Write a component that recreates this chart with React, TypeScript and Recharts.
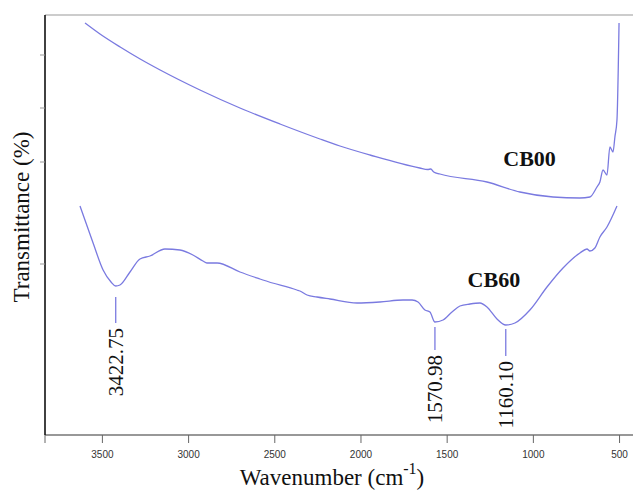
import React from 'react';
import { ComposedChart, Line, XAxis, YAxis, ReferenceLine, ReferenceDot } from 'recharts';

// CB00 spectrum (wavenumber cm-1, relative transmittance)
const cb00Wavenumber = [3601, 3514, 3397, 3281, 3165, 2934, 2702, 2470, 2238, 2122, 1948, 1659, 1613, 1595, 1578, 1542, 1269, 1078, 886, 730, 672, 631, 614, 596, 573, 556, 538, 527, 515, 503];
const cb00Transmittance = [414, 403, 390, 378, 367, 347, 329, 313, 298, 291, 282, 269, 267.5, 268, 265, 263, 255, 245, 240, 239, 240, 250, 255, 267, 262, 290, 285, 300, 317, 414];

// CB60 spectrum
const cb60Wavenumber = [3630, 3554, 3496, 3450, 3423, 3398, 3340, 3282, 3224, 3137, 3050, 2975, 2917, 2894, 2835, 2702, 2586, 2569, 2372, 2354, 2313, 2255, 2180, 2023, 1890, 1756, 1704, 1669, 1629, 1600, 1571, 1524, 1472, 1426, 1368, 1310, 1269, 1211, 1160, 1107, 1020, 921, 828, 730, 689, 672, 643, 614, 573, 515];
const cb60Transmittance = [231, 194, 167, 155, 151, 152, 165, 178, 181, 188, 187, 182, 176, 174, 174, 165, 158, 157, 147, 146, 142, 140, 138, 134, 135, 137, 137, 135, 127, 125, 115, 117, 125, 131, 133, 134, 130, 118, 112, 114, 127, 150, 169, 184, 188, 186, 189, 200, 210, 231];

// Peak annotations
const peakWavenumbers = [3422.75, 1570.98, 1160.1];
const peakLabels = ['3422.75', '1570.98', '1160.10'];
const peakLineTop = [140, 110, 108];
const peakLineBottom = [114, 87, 81];

// Series name labels
const seriesNames = ['CB00', 'CB60'];
const seriesLabelWavenumber = [1022, 1229];
const seriesLabelTransmittance = [271, 150];

// Axis ticks
const xTicks = [3833, 3500, 3000, 2500, 2000, 1500, 1000, 500];
const yTicks = [382, 329, 275, 173];

const cb00Data = cb00Wavenumber.map((wn, i) => ({ wn, t: cb00Transmittance[i] }));
const cb60Data = cb60Wavenumber.map((wn, i) => ({ wn, t: cb60Transmittance[i] }));

const LINE_COLOR = '#7a7ae0';
const SERIF = "'Liberation Serif', 'Times New Roman', serif";
const serifStyle = { fontFamily: SERIF };

export default function App() {
  return (
    <div style={{ position: 'absolute', left: 0, top: 0, width: 633, height: 490, background: '#fff' }}>
      <ComposedChart width={633} height={490} margin={{ top: 15, right: 0, bottom: 0, left: 0 }}>
        <XAxis
          type="number"
          dataKey="wn"
          domain={[422, 3833]}
          reversed
          ticks={xTicks}
          interval={0}
          allowDataOverflow
          height={55}
          axisLine={{ stroke: '#333', strokeWidth: 1.2 }}
          tickLine={{ stroke: '#666' }}
          tickSize={8}
          tickMargin={8}
          tick={{ fill: '#333', fontSize: 10, fontFamily: 'Arial, "Liberation Sans", sans-serif' }}
          tickFormatter={(v: number) => (v % 500 === 0 ? String(v) : '')}
          label={{
            content: () => (
              <text x={332} y={485} textAnchor="middle" fontSize={23} style={serifStyle} fill="#111">
                Wavenumber (cm
                <tspan dy={-11} fontSize={16}>-1</tspan>
                <tspan dy={11}>)</tspan>
              </text>
            ),
          }}
        />
        <YAxis
          type="number"
          dataKey="t"
          domain={[2, 422]}
          allowDataOverflow
          width={45}
          ticks={yTicks}
          interval={0}
          axisLine={{ stroke: '#111', strokeWidth: 1.6 }}
          tickLine={{ stroke: '#999' }}
          tickSize={5}
          tickFormatter={() => ''}
          label={{
            content: () => (
              <text x={29} y={217} transform="rotate(-90 29 217)" textAnchor="middle" fontSize={23} style={serifStyle} fill="#111">
                Transmittance (%)
              </text>
            ),
          }}
        />
        <ReferenceLine y={422} stroke="#999" strokeWidth={1.2} />
        <Line data={cb00Data} dataKey="t" type="monotone" stroke={LINE_COLOR} strokeWidth={1.3} dot={false} isAnimationActive={false} />
        <Line data={cb60Data} dataKey="t" type="monotone" stroke={LINE_COLOR} strokeWidth={1.3} dot={false} isAnimationActive={false} />
        {peakWavenumbers.map((wn, i) => (
          <ReferenceLine
            key={'pl' + i}
            segment={[{ x: wn, y: peakLineTop[i] }, { x: wn, y: peakLineBottom[i] }]}
            stroke={LINE_COLOR}
            strokeWidth={1.3}
          />
        ))}
        {peakWavenumbers.map((wn, i) => (
          <ReferenceDot
            key={'pt' + i}
            x={wn}
            y={peakLineBottom[i]}
            shape={(p: any) => (
              <text
                x={p.cx - 5}
                y={p.cy}
                dy="0.35em"
                transform={`rotate(-90 ${p.cx} ${p.cy})`}
                textAnchor="end"
                fontSize={21}
                style={serifStyle}
                fill="#111"
              >
                {peakLabels[i]}
              </text>
            )}
          />
        ))}
        {seriesNames.map((name, i) => (
          <ReferenceDot
            key={'sn' + i}
            x={seriesLabelWavenumber[i]}
            y={seriesLabelTransmittance[i]}
            shape={(p: any) => (
              <text x={p.cx} y={p.cy} textAnchor="middle" fontSize={22} fontWeight="bold" style={serifStyle} fill="#111">
                {name}
              </text>
            )}
          />
        ))}
      </ComposedChart>
    </div>
  );
}
